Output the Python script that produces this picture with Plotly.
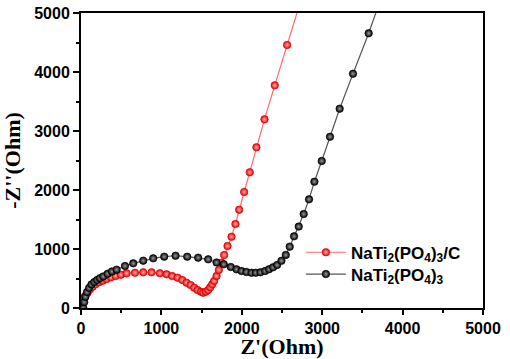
import plotly.graph_objects as go

# NaTi2(PO4)3/C
red_x = [8, 29, 50, 83, 112, 145, 182, 224, 270, 319, 373, 431, 497, 567, 671, 774, 878, 981,
         1065, 1134, 1201, 1259, 1313, 1363, 1408, 1450, 1491, 1520, 1553, 1582, 1607, 1632,
         1656, 1686, 1714, 1748, 1780, 1822, 1872, 1921, 1967, 2029, 2099, 2182, 2282, 2410,
         2563, 2740]
red_y = [80, 147, 203, 260, 316, 361, 401, 435, 463, 491, 520, 542, 564, 588, 598, 605, 605, 588,
         571, 542, 514, 475, 429, 390, 344, 305, 276, 259, 276, 305, 351, 401,
         458, 542, 644, 768, 898, 1051, 1208, 1424, 1666, 1966, 2300, 2723, 3198, 3774,
         4458, 5240]

# NaTi2(PO4)3
black_x = [29, 40, 55, 75, 100, 130, 165, 200, 235, 277, 331, 385, 443, 547, 650, 774, 898, 1035,
           1176, 1321, 1457, 1582, 1686, 1776, 1863, 1934, 1996, 2058, 2120, 2174, 2232, 2290,
           2339, 2389, 2439, 2493, 2547, 2596, 2650, 2708, 2770, 2836, 2903, 2994, 3097, 3217,
           3383, 3578, 3780]
black_y = [0, 100, 190, 270, 340, 400, 440, 475, 505, 535, 580, 620, 650, 712, 757, 802, 842, 870,
           886, 870, 853, 825, 771, 741, 695, 656, 627, 610, 598, 598, 605, 627,
           656, 690, 729, 800, 900, 1040, 1215, 1380, 1593, 1842, 2141, 2492, 2903, 3378,
           3971, 4656, 5440]

tick_vals = [0, 1000, 2000, 3000, 4000, 5000]
names = ["NaTi<sub>2</sub>(PO<sub>4</sub>)<sub>3</sub>/C", "NaTi<sub>2</sub>(PO<sub>4</sub>)<sub>3</sub>"]

fig = go.Figure()
fig.add_trace(go.Scatter(
    x=red_x, y=red_y, mode="lines+markers", name=names[0], legend="legend",
    line=dict(color="#ff6a6a", width=1.2),
    marker=dict(color="#ee0000", size=7.5, line=dict(color="#d00000", width=0.6),
                gradient=dict(type="radial", color="#ffb0b0")),
))
fig.add_trace(go.Scatter(
    x=black_x, y=black_y, mode="lines+markers", name=names[1], legend="legend2",
    line=dict(color="#555555", width=1.2),
    marker=dict(color="#000000", size=7.5, line=dict(color="#000000", width=0.6),
                gradient=dict(type="radial", color="#9a9a9a")),
))

tickfont = dict(family="Liberation Sans, Arial", size=16, color="black", weight="bold")
titlefont = dict(family="Liberation Serif, Times New Roman", size=22, color="black", weight="bold")

common = dict(
    range=[0, 5000], tickvals=tick_vals,
    ticks="outside", tickwidth=1.5, tickcolor="black",
    minor=dict(dtick=500, ticks="outside", ticklen=3, tickwidth=1.5, tickcolor="black"),
    showline=True, linewidth=2, linecolor="black", mirror=True,
    showgrid=False, zeroline=False, tickfont=tickfont, automargin=False,
)
fig.update_xaxes(**common, ticklen=5, title=dict(text="Z'(Ohm)", font=titlefont))
fig.update_yaxes(**common, ticklen=6, title=dict(text="-Z''(Ohm)", font=titlefont))

legfont = dict(family="Liberation Sans, Arial", size=17, color="black", weight="bold")
leg_common = dict(x=0.547, xanchor="left", yanchor="middle", font=legfont,
                  bgcolor="rgba(0,0,0,0)", itemwidth=40)

fig.update_layout(
    width=510, height=359,
    margin=dict(l=81, r=27, t=13, b=51, pad=0),
    paper_bgcolor="white", plot_bgcolor="white",
    showlegend=True,
    legend=dict(y=0.1875, **leg_common),
    legend2=dict(y=0.1136, **leg_common),
)

fig.write_html("out.html", config={"displayModeBar": False},
               post_script="document.body.style.margin='0';document.body.style.overflow='hidden';")
